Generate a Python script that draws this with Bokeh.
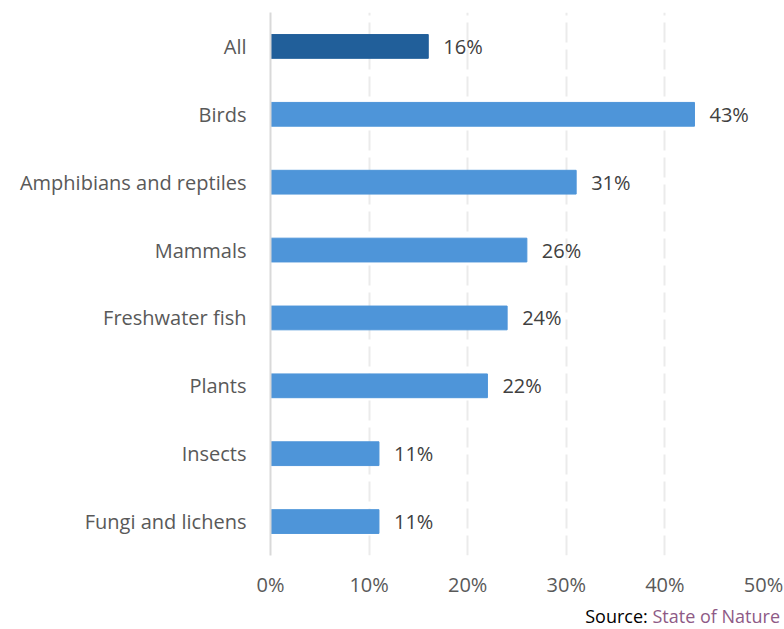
from bokeh.plotting import figure
from bokeh.models import FixedTicker, PrintfTickFormatter, ColumnDataSource, Range1d, Div
from bokeh.layouts import column
from bokeh.core.properties import value
from bokeh.embed import file_html
from bokeh.resources import INLINE

categories = ["All", "Birds", "Amphibians and reptiles", "Mammals", "Freshwater fish",
              "Plants", "Insects", "Fungi and lichens"]
values = [16, 43, 31, 26, 24, 22, 11, 11]
colors = ["#215F9A"] + ["#4E95D9"] * 7
value_labels = ["16%", "43%", "31%", "26%", "24%", "22%", "11%", "11%"]
ticks = [0, 10, 20, 30, 40, 50]
source_prefix = "Source:"
source_name = "State of Nature"

FONT = "Open Sans"
FS = "20px"

src = ColumnDataSource(dict(cat=categories, val=values, color=colors, lab=value_labels))

p = figure(width=784, height=604, output_backend="svg", toolbar_location=None,
           y_range=list(reversed(categories)), x_range=Range1d(0, 50),
           min_border_left=270, min_border_right=21, min_border_top=12, min_border_bottom=49)
p.outline_line_color = None
p.background_fill_color = "white"
p.border_fill_color = "white"

p.hbar(y="cat", right="val", left=0, height=0.35, color="color", source=src)
p.text(x="val", y="cat", text="lab", source=src, x_offset=15,
       text_baseline="middle", text_align="left", text_font=value(FONT),
       text_font_size=FS, text_color="#404040")

p.xgrid.ticker = FixedTicker(ticks=ticks)
p.xgrid.grid_line_color = "#ebebeb"
p.xgrid.grid_line_width = 2
p.xgrid.grid_line_dash = "20 7"
p.ygrid.grid_line_color = None

p.xaxis.ticker = FixedTicker(ticks=ticks)
p.xaxis.formatter = PrintfTickFormatter(format="%d%%")
p.xaxis.axis_line_color = None
p.xaxis.major_tick_line_color = None
p.xaxis.minor_tick_line_color = None
p.xaxis.major_label_standoff = 9
p.xaxis.major_label_text_font = FONT
p.xaxis.major_label_text_font_size = FS
p.xaxis.major_label_text_color = "#595959"

p.yaxis.axis_line_color = "#d9d9d9"
p.yaxis.axis_line_width = 2
p.yaxis.major_tick_line_color = None
p.yaxis.minor_tick_line_color = None
p.yaxis.major_label_standoff = 18
p.yaxis.major_label_text_font = FONT
p.yaxis.major_label_text_font_size = FS
p.yaxis.major_label_text_color = "#595959"

div = Div(
    text=f'<span style="color:#000000">{source_prefix}</span> '
         f'<span style="color:#8E5A86">{source_name}</span>',
    width=784, height=25,
    styles={"font-family": "'Open Sans'", "font-size": "18px", "text-align": "right",
            "line-height": "25px", "margin": "0", "padding": "0 4px 0 0",
            "white-space": "nowrap", "box-sizing": "border-box"},
)
div.margin = (0, 0, 0, 0)

layout = column(p, div, spacing=0)

open("out.html", "w").write(file_html(layout, INLINE))
